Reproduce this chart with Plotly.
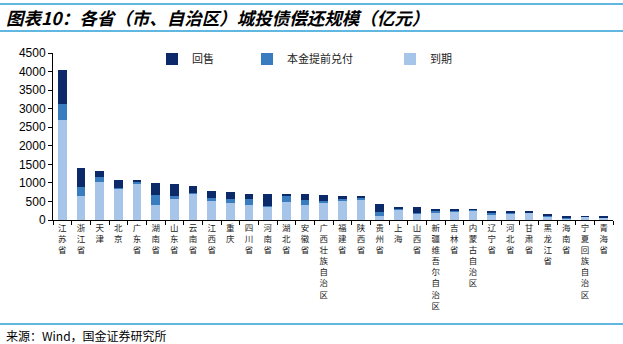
import plotly.graph_objects as go

provinces = ["江苏省", "浙江省", "天津", "北京", "广东省", "湖南省", "山东省", "云南省", "江西省", "重庆",
             "四川省", "河南省", "湖北省", "安徽省", "广西壮族自治区", "福建省", "陕西省", "贵州省", "上海", "山西省",
             "新疆维吾尔自治区", "吉林省", "内蒙古自治区", "辽宁省", "河北省", "甘肃省", "黑龙江省", "海南省",
             "宁夏回族自治区", "青海省"]
daoqi = [2700, 650, 1033, 853, 970, 404, 566, 718, 503, 449,
         404, 368, 476, 404, 476, 521, 557, 117, 287, 180,
         180, 233, 262, 144, 171, 198, 90, 40, 90, 75]
benjin = [430, 245, 115, 20, 72, 270, 90, 18, 100, 117,
          162, 18, 170, 135, 27, 54, 53, 89, 18, 10,
          62, 27, 8, 63, 18, 17, 9, 15, 3, 0]
huishou = [920, 495, 172, 205, 36, 333, 306, 180, 180, 180,
           125, 305, 54, 152, 170, 71, 27, 225, 36, 160,
           54, 36, 26, 44, 44, 18, 63, 26, 6, 6]
yticks = [0, 500, 1000, 1500, 2000, 2500, 3000, 3500, 4000, 4500]

C_DARK = "#0c2a69"
C_MID = "#3a7cc0"
C_LIGHT = "#a6c5e8"
LINE_C = "#2b9fd6"
FONT = "Noto Sans CJK SC"

ticktext = ["<br>".join(list(p)) for p in provinces]

fig = go.Figure()
fig.add_trace(go.Bar(x=provinces, y=daoqi, name="到期", marker_color=C_LIGHT,
                     marker_line_width=0, legend="legend3"))
fig.add_trace(go.Bar(x=provinces, y=benjin, name="本金提前兑付", marker_color=C_MID,
                     marker_line_width=0, legend="legend2"))
fig.add_trace(go.Bar(x=provinces, y=huishou, name="回售", marker_color=C_DARK,
                     marker_line_width=0, legend="legend"))

W, H = 623, 344
L, R, T, B = 53, 10, 53, 124
pw = W - L - R
ph = H - T - B


def px_x(x):
    return (x - L) / pw


def px_y(y):
    return (H - B - y) / ph


leg_common = dict(orientation="h", yanchor="middle", xanchor="left",
                  bgcolor="rgba(0,0,0,0)", font=dict(family=FONT, size=11, color="#222"),
                  itemwidth=30, borderwidth=0)

fig.update_layout(
    width=W, height=H,
    margin=dict(l=L, r=R, t=T, b=B),
    paper_bgcolor="white", plot_bgcolor="white",
    barmode="stack", bargap=0.55,
    showlegend=True,
    legend=dict(x=px_x(152), y=px_y(59), **leg_common),
    legend2=dict(x=px_x(247), y=px_y(59), **leg_common),
    legend3=dict(x=px_x(390), y=px_y(59), **leg_common),
    xaxis=dict(
        type="category", tickmode="array", tickvals=provinces, ticktext=ticktext,
        tickangle=0, tickson="boundaries", ticks="outside", ticklen=4, tickcolor="black",
        showline=True, linecolor="black", linewidth=1, showgrid=False,
        tickfont=dict(family=FONT, size=8.5, color="#222"),
        range=[-0.5, len(provinces) - 0.5],
    ),
    yaxis=dict(
        range=[0, 4500], tickmode="array", tickvals=yticks,
        ticks="outside", ticklen=4, tickcolor="black",
        showline=True, linecolor="black", linewidth=1, showgrid=False, zeroline=False,
        tickfont=dict(family="Arial, Liberation Sans", size=12, color="black"),
    ),
    font=dict(family=FONT),
)

# decorative frame lines and texts
for yy in [4, 31, 324]:
    fig.add_shape(type="line", xref="paper", yref="paper",
                  x0=px_x(0), x1=px_x(W), y0=px_y(yy), y1=px_y(yy),
                  line=dict(color=LINE_C, width=1.5))

fig.add_annotation(xref="paper", yref="paper", x=px_x(4), y=px_y(17),
                   xanchor="left", yanchor="middle", showarrow=False,
                   text="<b><i>图表10：各省（市、自治区）城投债偿还规模（亿元）</i></b>",
                   font=dict(family=FONT, size=17.5, color="black"))
fig.add_annotation(xref="paper", yref="paper", x=px_x(4), y=px_y(335),
                   xanchor="left", yanchor="middle", showarrow=False,
                   text="来源：Wind，国金证券研究所",
                   font=dict(family=FONT, size=12, color="black"))

fig.write_html("out.html")
